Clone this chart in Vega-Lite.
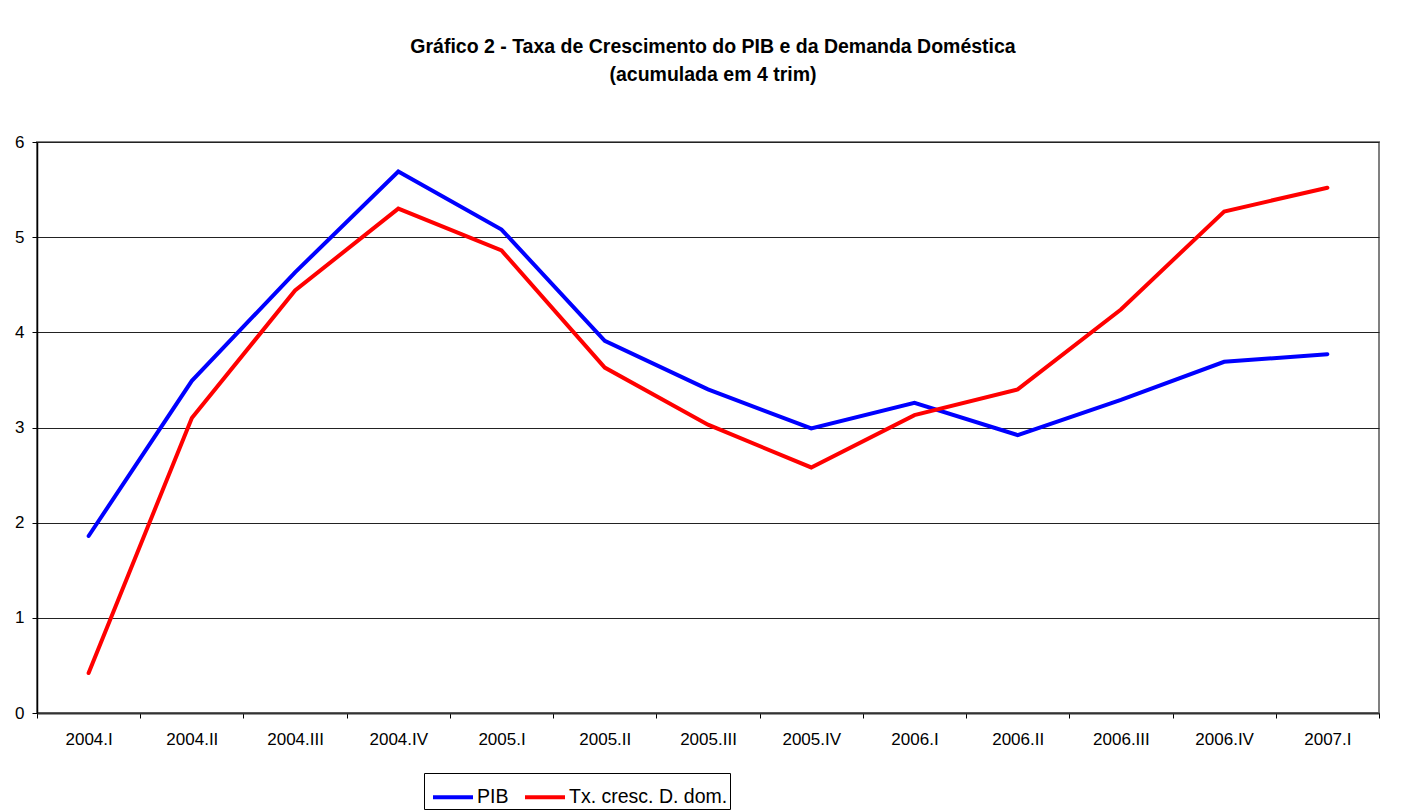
{
  "$schema": "https://vega.github.io/schema/vega-lite/v6.json",
  "autosize": "none",
  "width": 1342,
  "height": 571,
  "padding": {"left": 37, "top": 142, "right": 25, "bottom": 97},
  "background": "white",
  "title": {
    "text": "Gráfico 2 - Taxa de Crescimento do PIB e da Demanda Doméstica",
    "subtitle": "(acumulada em 4 trim)",
    "anchor": "middle",
    "font": "Liberation Sans, Arial, sans-serif",
    "fontSize": 19.5,
    "fontWeight": "bold",
    "color": "black",
    "subtitleFont": "Liberation Sans, Arial, sans-serif",
    "subtitleFontSize": 19.5,
    "subtitleFontWeight": "bold",
    "subtitleColor": "black",
    "subtitlePadding": 8,
    "offset": 48,
    "dx": 5
  },
  "data": {
    "values": [
      {"periodo": "2004.I", "serie": "PIB", "valor": 1.86},
      {"periodo": "2004.II", "serie": "PIB", "valor": 3.49},
      {"periodo": "2004.III", "serie": "PIB", "valor": 4.63},
      {"periodo": "2004.IV", "serie": "PIB", "valor": 5.69},
      {"periodo": "2005.I", "serie": "PIB", "valor": 5.08},
      {"periodo": "2005.II", "serie": "PIB", "valor": 3.91},
      {"periodo": "2005.III", "serie": "PIB", "valor": 3.40},
      {"periodo": "2005.IV", "serie": "PIB", "valor": 2.99},
      {"periodo": "2006.I", "serie": "PIB", "valor": 3.26},
      {"periodo": "2006.II", "serie": "PIB", "valor": 2.92},
      {"periodo": "2006.III", "serie": "PIB", "valor": 3.29},
      {"periodo": "2006.IV", "serie": "PIB", "valor": 3.69},
      {"periodo": "2007.I", "serie": "PIB", "valor": 3.77},
      {"periodo": "2004.I", "serie": "Tx. cresc. D. dom.", "valor": 0.42},
      {"periodo": "2004.II", "serie": "Tx. cresc. D. dom.", "valor": 3.10},
      {"periodo": "2004.III", "serie": "Tx. cresc. D. dom.", "valor": 4.44},
      {"periodo": "2004.IV", "serie": "Tx. cresc. D. dom.", "valor": 5.30},
      {"periodo": "2005.I", "serie": "Tx. cresc. D. dom.", "valor": 4.86},
      {"periodo": "2005.II", "serie": "Tx. cresc. D. dom.", "valor": 3.63},
      {"periodo": "2005.III", "serie": "Tx. cresc. D. dom.", "valor": 3.03},
      {"periodo": "2005.IV", "serie": "Tx. cresc. D. dom.", "valor": 2.58},
      {"periodo": "2006.I", "serie": "Tx. cresc. D. dom.", "valor": 3.13},
      {"periodo": "2006.II", "serie": "Tx. cresc. D. dom.", "valor": 3.40},
      {"periodo": "2006.III", "serie": "Tx. cresc. D. dom.", "valor": 4.24},
      {"periodo": "2006.IV", "serie": "Tx. cresc. D. dom.", "valor": 5.27},
      {"periodo": "2007.I", "serie": "Tx. cresc. D. dom.", "valor": 5.52}
    ]
  },
  "mark": {"type": "line", "strokeWidth": 4, "strokeCap": "round", "strokeJoin": "miter"},
  "encoding": {
    "x": {
      "field": "periodo",
      "type": "ordinal",
      "sort": null,
      "bandPosition": 0.5,
      "scale": {"type": "band", "paddingInner": 0, "paddingOuter": 0},
      "axis": {
        "title": null,
        "labelAngle": 0,
        "labelFont": "Liberation Sans, Arial, sans-serif",
        "labelFontSize": 17,
        "labelColor": "black",
        "labelPadding": 13,
        "tickBand": "extent",
        "ticks": true,
        "tickSize": 5,
        "tickColor": "black",
        "domainColor": "#333333",
        "domainWidth": 2,
        "grid": false
      }
    },
    "y": {
      "field": "valor",
      "type": "quantitative",
      "scale": {"domain": [0, 6], "nice": false},
      "axis": {
        "title": null,
        "values": [0, 1, 2, 3, 4, 5, 6],
        "format": "d",
        "labelFont": "Liberation Sans, Arial, sans-serif",
        "labelFontSize": 17,
        "labelColor": "black",
        "labelPadding": 8,
        "tickSize": 5,
        "tickColor": "black",
        "domainColor": "black",
        "domainWidth": 1.5,
        "grid": true,
        "gridColor": "#222222",
        "gridWidth": 1,
        "gridOpacity": 1
      }
    },
    "color": {
      "field": "serie",
      "type": "nominal",
      "scale": {"domain": ["PIB", "Tx. cresc. D. dom."], "range": ["#0000FF", "#FF0000"]},
      "legend": {
        "title": null,
        "orient": "none",
        "direction": "horizontal",
        "legendX": 387,
        "legendY": 631,
        "symbolType": "stroke",
        "symbolStrokeWidth": 4,
        "symbolSize": 1600,
        "symbolOffset": 5,
        "labelFont": "Liberation Sans, Arial, sans-serif",
        "labelFontSize": 19.5,
        "labelColor": "black",
        "labelOffset": 2,
        "columnPadding": 8,
        "strokeColor": "black",
        "padding": 2
      }
    }
  },
  "config": {
    "view": {"stroke": "#808080", "strokeWidth": 2}
  }
}
